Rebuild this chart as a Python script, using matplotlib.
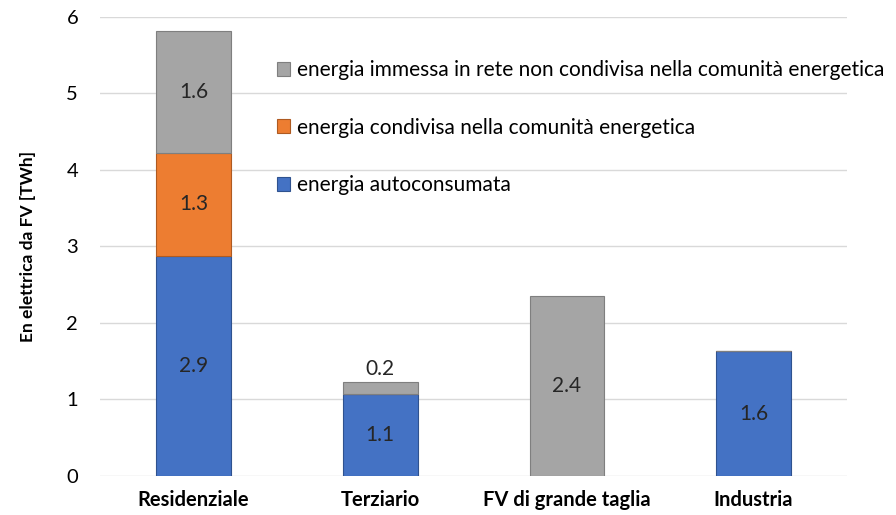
import matplotlib.pyplot as plt
import numpy as np

plt.rcParams['font.family'] = ['Lato', 'DejaVu Sans']

categories = ['Residenziale', 'Terziario', 'FV di grande taglia', 'Industria']
autoconsumata = [2.88, 1.07, 0.0, 1.63]
condivisa = [1.34, 0.0, 0.0, 0.0]
immessa = [1.60, 0.16, 2.35, 0.0]

series_names = ['energia autoconsumata',
                'energia condivisa nella comunità energetica',
                'energia immessa in rete non condivisa nella comunità energetica']
colors = ['#4472C4', '#ED7D31', '#A5A5A5']
edges = ['#2F528F', '#AE5A21', '#7F7F7F']

fig = plt.figure(figsize=(8.96, 5.15), dpi=100)
ax = fig.add_axes([0.112, 0.076, 0.833, 0.891])

x = np.arange(len(categories))
width = 0.4
bottom = np.zeros(len(categories))
handles = []
for vals, name, col, ec in zip([autoconsumata, condivisa, immessa], series_names, colors, edges):
    vals = np.array(vals)
    bars = ax.bar(x, vals, width, bottom=bottom, color=col, edgecolor=ec,
                  linewidth=0.8, label=name, zorder=3)
    handles.append(bars)
    for xi, v, b in zip(x, vals, bottom):
        if v <= 0:
            continue
        if v < 0.3:
            ax.text(xi, b + v + 0.04, f'{v:.1f}', ha='center', va='bottom',
                    fontsize=15, color='#262626')
        else:
            ax.text(xi, b + v / 2, f'{v:.1f}', ha='center', va='center',
                    fontsize=15, color='#262626')
    bottom += vals

ax.set_xlim(-0.5, len(categories) - 0.5)
ax.set_ylim(0, 6)
ax.set_yticks(range(7))
ax.set_xticks(x)
ax.set_xticklabels(categories, fontweight='bold', fontsize=14.5)
ax.tick_params(axis='y', labelsize=14.5, length=0, pad=16)
ax.tick_params(axis='x', length=0, pad=10)
ax.grid(axis='y', color='#D9D9D9', linewidth=1, zorder=0)
for s in ax.spines.values():
    s.set_visible(False)
ax.set_ylabel('En elettrica da FV [TWh]', fontweight='bold', fontsize=12.5, labelpad=22)

fig.legend(handles[::-1], series_names[::-1], loc='upper left',
           bbox_to_anchor=(0.309, 0.883), frameon=False, fontsize=15,
           handlelength=0.65, handleheight=0.65, handletextpad=0.3,
           labelspacing=1.8, borderaxespad=0, borderpad=0)

fig.savefig('out.png', dpi=100)
